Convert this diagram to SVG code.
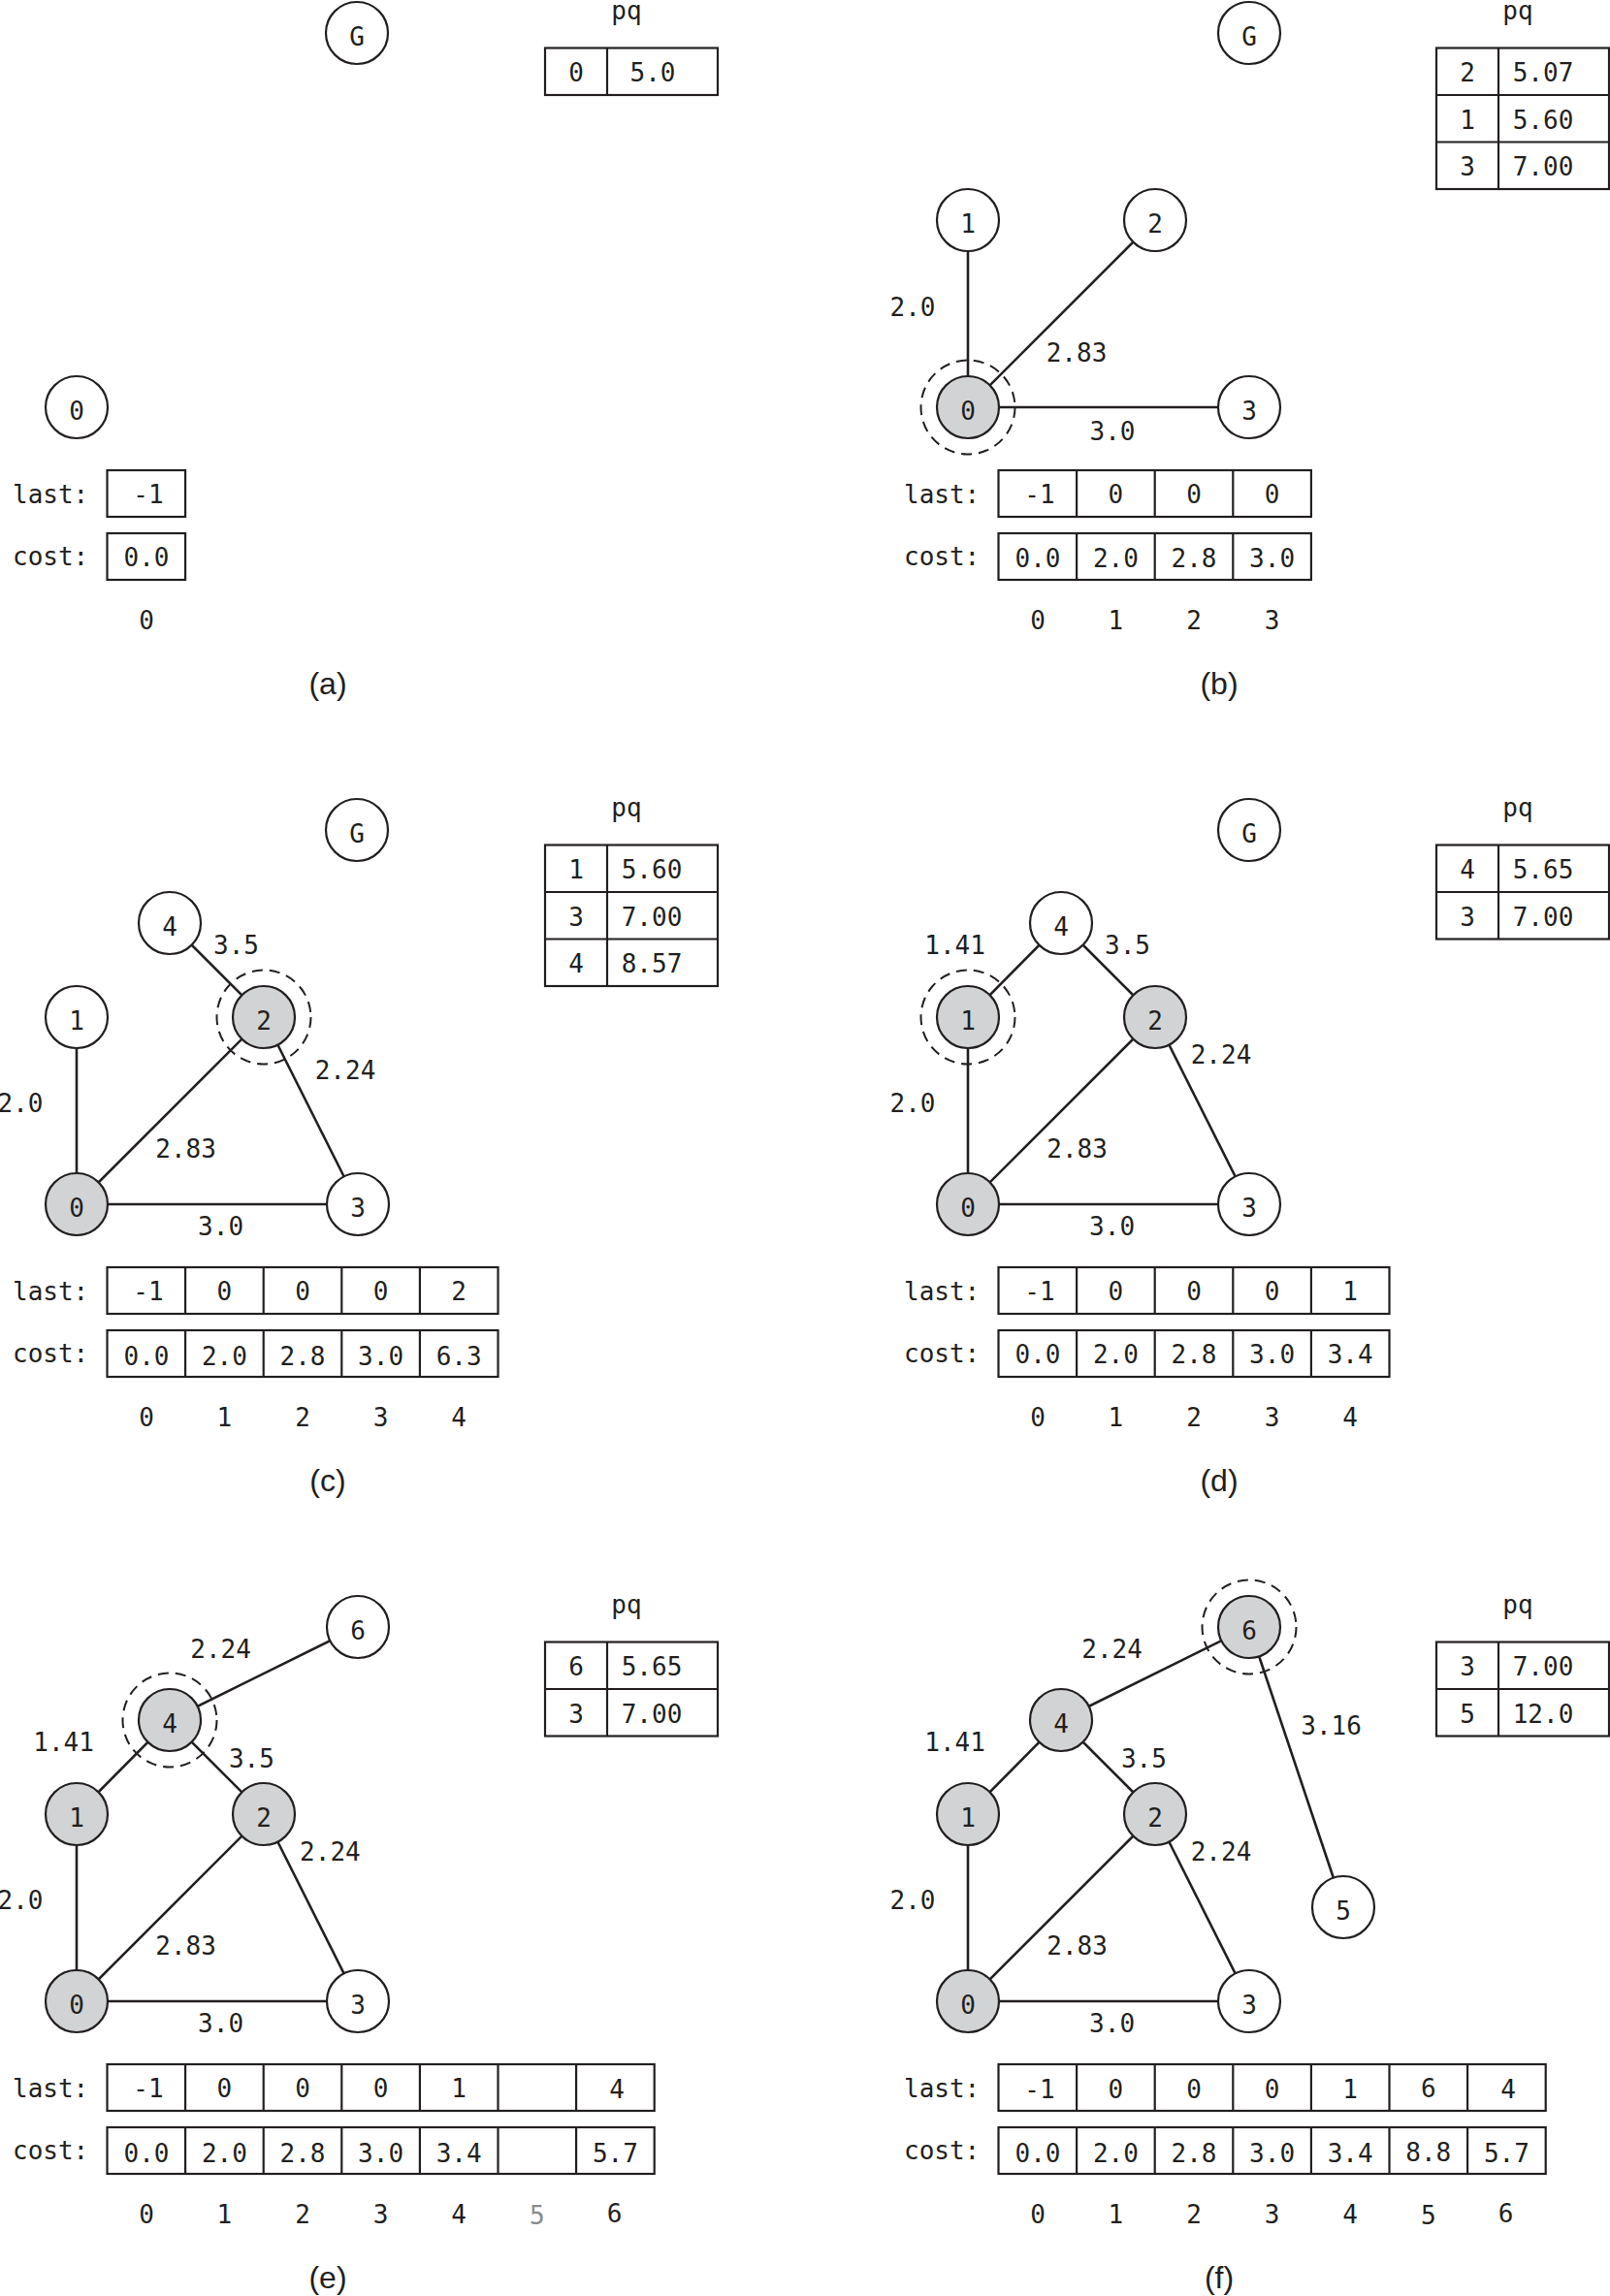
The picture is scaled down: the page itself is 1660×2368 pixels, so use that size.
<svg xmlns="http://www.w3.org/2000/svg" width="1660" height="2368" viewBox="0 0 1660 2368">
<style>
.bg{fill:#fff}
.e{stroke:#231f20;stroke-width:2.6;fill:none}
.n{fill:#fff;stroke:#231f20;stroke-width:2.2}
.v{fill:#d1d3d4;stroke:#231f20;stroke-width:2.2}
.ring{fill:none;stroke:#231f20;stroke-width:2;stroke-dasharray:11 7}
.box{fill:#fff;stroke:#231f20;stroke-width:2.2}
.ln{stroke:#231f20;stroke-width:2.2}
.t{font-family:"DejaVu Sans Mono","Liberation Mono",monospace;font-size:26px;fill:#231f20;text-anchor:middle}
.l{font-family:"DejaVu Sans Mono","Liberation Mono",monospace;font-size:26px;fill:#231f20}
.cap{font-family:"Liberation Sans","DejaVu Sans",sans-serif;font-size:32px;fill:#231f20;text-anchor:middle}
.gr{fill:#8a8a8a}
</style>
<rect class="bg" x="0" y="0" width="1660" height="2368"/>

<!-- ===================== (a) ===================== -->
<g id="panel-a">
  <g id="a-G"><circle class="n" cx="368" cy="34" r="32"/><text class="t" x="368" y="46.5">G</text></g>
  <g id="a-pq">
    <text class="t" x="646" y="20">pq</text>
    <rect class="box" x="562" y="49.5" width="178" height="48.5"/>
    <line class="ln" x1="626" y1="49.5" x2="626" y2="98"/>
    <text class="t" x="594" y="84">0</text><text class="t" x="673" y="84">5.0</text>
  </g>
  <g id="a-n0"><circle class="n" cx="79" cy="420" r="32"/><text class="t" x="79" y="432.5">0</text></g>
  <g id="a-last">
    <text class="l" x="13" y="519">last:</text>
    <rect class="box" x="110.5" y="485" width="80.6" height="48"/>
    <text class="t" x="153" y="519">-1</text>
  </g>
  <g id="a-cost">
    <text class="l" x="13" y="583">cost:</text>
    <rect class="box" x="110.5" y="550" width="80.6" height="48"/>
    <text class="t" x="151" y="584">0.0</text>
  </g>
  <g id="a-idx"><text class="t" x="151" y="649">0</text></g>
  <text class="cap" x="338" y="716">(a)</text>
</g>

<!-- ===================== (b) ===================== -->
<g id="panel-b" transform="translate(919,0)">
  <g id="b-edges">
    <line class="e" x1="79" y1="420" x2="79" y2="227"/>
    <line class="e" x1="79" y1="420" x2="272" y2="227"/>
    <line class="e" x1="79" y1="420" x2="369" y2="420"/>
  </g>
  <g id="b-elabels">
    <text class="t" x="22" y="325.5">2.0</text>
    <text class="t" x="191" y="372.5">2.83</text>
    <text class="t" x="228" y="453.5">3.0</text>
  </g>
  <g id="b-G"><circle class="n" cx="369" cy="34" r="32"/><text class="t" x="369" y="46.5">G</text></g>
  <g id="b-pq">
    <text class="t" x="646" y="20">pq</text>
    <rect class="box" x="562" y="49.5" width="178" height="145.5"/>
    <line class="ln" x1="626" y1="49.5" x2="626" y2="195"/>
    <line class="ln" x1="562" y1="98" x2="740" y2="98"/>
    <line class="ln" x1="562" y1="146.5" x2="740" y2="146.5"/>
    <text class="t" x="594" y="84">2</text><text class="t" x="672" y="84">5.07</text>
    <text class="t" x="594" y="132.5">1</text><text class="t" x="672" y="132.5">5.60</text>
    <text class="t" x="594" y="181">3</text><text class="t" x="672" y="181">7.00</text>
  </g>
  <g id="b-n1"><circle class="n" cx="79" cy="227" r="32"/><text class="t" x="79" y="239.5">1</text></g>
  <g id="b-n2"><circle class="n" cx="272" cy="227" r="32"/><text class="t" x="272" y="239.5">2</text></g>
  <g id="b-n3"><circle class="n" cx="369" cy="420" r="32"/><text class="t" x="369" y="432.5">3</text></g>
  <g id="b-n0"><circle class="ring" cx="79" cy="420" r="48.5"/><circle class="v" cx="79" cy="420" r="32"/><text class="t" x="79" y="432.5">0</text></g>
  <g id="b-last">
    <text class="l" x="13" y="519">last:</text>
    <rect class="box" x="110.5" y="485" width="322.4" height="48"/>
    <line class="ln" x1="191.1" y1="485" x2="191.1" y2="533"/>
    <line class="ln" x1="271.7" y1="485" x2="271.7" y2="533"/>
    <line class="ln" x1="352.3" y1="485" x2="352.3" y2="533"/>
    <text class="t" x="153" y="519">-1</text><text class="t" x="231.4" y="519">0</text><text class="t" x="312" y="519">0</text><text class="t" x="392.6" y="519">0</text>
  </g>
  <g id="b-cost">
    <text class="l" x="13" y="583">cost:</text>
    <rect class="box" x="110.5" y="550" width="322.4" height="48"/>
    <line class="ln" x1="191.1" y1="550" x2="191.1" y2="598"/>
    <line class="ln" x1="271.7" y1="550" x2="271.7" y2="598"/>
    <line class="ln" x1="352.3" y1="550" x2="352.3" y2="598"/>
    <text class="t" x="151" y="585">0.0</text><text class="t" x="231.4" y="585">2.0</text><text class="t" x="312" y="585">2.8</text><text class="t" x="392.6" y="585">3.0</text>
  </g>
  <g id="b-idx">
    <text class="t" x="151" y="649">0</text><text class="t" x="231.4" y="649">1</text><text class="t" x="312" y="649">2</text><text class="t" x="392.6" y="649">3</text>
  </g>
  <text class="cap" x="338" y="716">(b)</text>
</g>

<!-- ===================== (c) ===================== -->
<g id="panel-c" transform="translate(0,822)">
  <g id="c-edges">
    <line class="e" x1="79" y1="420" x2="79" y2="227"/>
    <line class="e" x1="79" y1="420" x2="272" y2="227"/>
    <line class="e" x1="79" y1="420" x2="369" y2="420"/>
    <line class="e" x1="272" y1="227" x2="369" y2="420"/>
    <line class="e" x1="272" y1="227" x2="175" y2="130"/>
  </g>
  <g id="c-elabels">
    <text class="t" x="243.5" y="161.5">3.5</text>
    <text class="t" x="21" y="324.5">2.0</text>
    <text class="t" x="356" y="290.5">2.24</text>
    <text class="t" x="191.6" y="371.5">2.83</text>
    <text class="t" x="227.6" y="451.5">3.0</text>
  </g>
  <g id="c-G"><circle class="n" cx="368" cy="34" r="32"/><text class="t" x="368" y="46.5">G</text></g>
  <g id="c-pq">
    <text class="t" x="646" y="20">pq</text>
    <rect class="box" x="562" y="49.5" width="178" height="145.5"/>
    <line class="ln" x1="626" y1="49.5" x2="626" y2="195"/>
    <line class="ln" x1="562" y1="98" x2="740" y2="98"/>
    <line class="ln" x1="562" y1="146.5" x2="740" y2="146.5"/>
    <text class="t" x="594" y="84">1</text><text class="t" x="672" y="84">5.60</text>
    <text class="t" x="594" y="132.5">3</text><text class="t" x="672" y="132.5">7.00</text>
    <text class="t" x="594" y="181">4</text><text class="t" x="672" y="181">8.57</text>
  </g>
  <g id="c-n4"><circle class="n" cx="175" cy="130" r="32"/><text class="t" x="175" y="142.5">4</text></g>
  <g id="c-n1"><circle class="n" cx="79" cy="227" r="32"/><text class="t" x="79" y="239.5">1</text></g>
  <g id="c-n3"><circle class="n" cx="369" cy="420" r="32"/><text class="t" x="369" y="432.5">3</text></g>
  <g id="c-n0"><circle class="v" cx="79" cy="420" r="32"/><text class="t" x="79" y="432.5">0</text></g>
  <g id="c-n2"><circle class="ring" cx="272" cy="227" r="48.5"/><circle class="v" cx="272" cy="227" r="32"/><text class="t" x="272" y="239.5">2</text></g>
  <g id="c-last">
    <text class="l" x="13" y="519">last:</text>
    <rect class="box" x="110.5" y="485" width="403" height="48"/>
    <line class="ln" x1="191.1" y1="485" x2="191.1" y2="533"/>
    <line class="ln" x1="271.7" y1="485" x2="271.7" y2="533"/>
    <line class="ln" x1="352.3" y1="485" x2="352.3" y2="533"/>
    <line class="ln" x1="432.9" y1="485" x2="432.9" y2="533"/>
    <text class="t" x="153" y="519">-1</text><text class="t" x="231.4" y="519">0</text><text class="t" x="312" y="519">0</text><text class="t" x="392.6" y="519">0</text><text class="t" x="473.2" y="519">2</text>
  </g>
  <g id="c-cost">
    <text class="l" x="13" y="583">cost:</text>
    <rect class="box" x="110.5" y="550" width="403" height="48"/>
    <line class="ln" x1="191.1" y1="550" x2="191.1" y2="598"/>
    <line class="ln" x1="271.7" y1="550" x2="271.7" y2="598"/>
    <line class="ln" x1="352.3" y1="550" x2="352.3" y2="598"/>
    <line class="ln" x1="432.9" y1="550" x2="432.9" y2="598"/>
    <text class="t" x="151" y="586">0.0</text><text class="t" x="231.4" y="586">2.0</text><text class="t" x="312" y="586">2.8</text><text class="t" x="392.6" y="586">3.0</text><text class="t" x="473.2" y="586">6.3</text>
  </g>
  <g id="c-idx">
    <text class="t" x="151" y="649">0</text><text class="t" x="231.4" y="649">1</text><text class="t" x="312" y="649">2</text><text class="t" x="392.6" y="649">3</text><text class="t" x="473.2" y="649">4</text>
  </g>
  <text class="cap" x="338" y="716">(c)</text>
</g>

<!-- ===================== (d) ===================== -->
<g id="panel-d" transform="translate(919,822)">
  <g id="d-edges">
    <line class="e" x1="79" y1="420" x2="79" y2="227"/>
    <line class="e" x1="79" y1="420" x2="272" y2="227"/>
    <line class="e" x1="79" y1="420" x2="369" y2="420"/>
    <line class="e" x1="272" y1="227" x2="369" y2="420"/>
    <line class="e" x1="272" y1="227" x2="175" y2="130"/>
    <line class="e" x1="79" y1="227" x2="175" y2="130"/>
  </g>
  <g id="d-elabels">
    <text class="t" x="65.6" y="161.5">1.41</text>
    <text class="t" x="243.5" y="161.5">3.5</text>
    <text class="t" x="340" y="274.5">2.24</text>
    <text class="t" x="22" y="324.5">2.0</text>
    <text class="t" x="191.6" y="371.5">2.83</text>
    <text class="t" x="227.6" y="451.5">3.0</text>
  </g>
  <g id="d-G"><circle class="n" cx="369" cy="34" r="32"/><text class="t" x="369" y="46.5">G</text></g>
  <g id="d-pq">
    <text class="t" x="646" y="20">pq</text>
    <rect class="box" x="562" y="49.5" width="178" height="97"/>
    <line class="ln" x1="626" y1="49.5" x2="626" y2="146.5"/>
    <line class="ln" x1="562" y1="98" x2="740" y2="98"/>
    <text class="t" x="594" y="84">4</text><text class="t" x="672" y="84">5.65</text>
    <text class="t" x="594" y="132.5">3</text><text class="t" x="672" y="132.5">7.00</text>
  </g>
  <g id="d-n4"><circle class="n" cx="175" cy="130" r="32"/><text class="t" x="175" y="142.5">4</text></g>
  <g id="d-n3"><circle class="n" cx="369" cy="420" r="32"/><text class="t" x="369" y="432.5">3</text></g>
  <g id="d-n0"><circle class="v" cx="79" cy="420" r="32"/><text class="t" x="79" y="432.5">0</text></g>
  <g id="d-n2"><circle class="v" cx="272" cy="227" r="32"/><text class="t" x="272" y="239.5">2</text></g>
  <g id="d-n1"><circle class="ring" cx="79" cy="227" r="48.5"/><circle class="v" cx="79" cy="227" r="32"/><text class="t" x="79" y="239.5">1</text></g>
  <g id="d-last">
    <text class="l" x="13" y="519">last:</text>
    <rect class="box" x="110.5" y="485" width="403" height="48"/>
    <line class="ln" x1="191.1" y1="485" x2="191.1" y2="533"/>
    <line class="ln" x1="271.7" y1="485" x2="271.7" y2="533"/>
    <line class="ln" x1="352.3" y1="485" x2="352.3" y2="533"/>
    <line class="ln" x1="432.9" y1="485" x2="432.9" y2="533"/>
    <text class="t" x="153" y="519">-1</text><text class="t" x="231.4" y="519">0</text><text class="t" x="312" y="519">0</text><text class="t" x="392.6" y="519">0</text><text class="t" x="473.2" y="519">1</text>
  </g>
  <g id="d-cost">
    <text class="l" x="13" y="583">cost:</text>
    <rect class="box" x="110.5" y="550" width="403" height="48"/>
    <line class="ln" x1="191.1" y1="550" x2="191.1" y2="598"/>
    <line class="ln" x1="271.7" y1="550" x2="271.7" y2="598"/>
    <line class="ln" x1="352.3" y1="550" x2="352.3" y2="598"/>
    <line class="ln" x1="432.9" y1="550" x2="432.9" y2="598"/>
    <text class="t" x="151" y="584">0.0</text><text class="t" x="231.4" y="584">2.0</text><text class="t" x="312" y="584">2.8</text><text class="t" x="392.6" y="584">3.0</text><text class="t" x="473.2" y="584">3.4</text>
  </g>
  <g id="d-idx">
    <text class="t" x="151" y="649">0</text><text class="t" x="231.4" y="649">1</text><text class="t" x="312" y="649">2</text><text class="t" x="392.6" y="649">3</text><text class="t" x="473.2" y="649">4</text>
  </g>
  <text class="cap" x="338" y="716">(d)</text>
</g>

<!-- ===================== (e) ===================== -->
<g id="panel-e" transform="translate(0,1644)">
  <g id="e-edges">
    <line class="e" x1="79" y1="420" x2="79" y2="227"/>
    <line class="e" x1="79" y1="420" x2="272" y2="227"/>
    <line class="e" x1="79" y1="420" x2="369" y2="420"/>
    <line class="e" x1="272" y1="227" x2="369" y2="420"/>
    <line class="e" x1="272" y1="227" x2="175" y2="130"/>
    <line class="e" x1="79" y1="227" x2="175" y2="130"/>
    <line class="e" x1="175" y1="130" x2="369" y2="34"/>
  </g>
  <g id="e-elabels">
    <text class="t" x="227.6" y="65.5">2.24</text>
    <text class="t" x="65.6" y="162">1.41</text>
    <text class="t" x="259.4" y="179">3.5</text>
    <text class="t" x="340.4" y="274.5">2.24</text>
    <text class="t" x="21" y="324.5">2.0</text>
    <text class="t" x="191.6" y="371.5">2.83</text>
    <text class="t" x="227.6" y="452">3.0</text>
  </g>
  <g id="e-pq">
    <text class="t" x="646" y="20">pq</text>
    <rect class="box" x="562" y="49.5" width="178" height="97"/>
    <line class="ln" x1="626" y1="49.5" x2="626" y2="146.5"/>
    <line class="ln" x1="562" y1="98" x2="740" y2="98"/>
    <text class="t" x="594" y="84">6</text><text class="t" x="672" y="84">5.65</text>
    <text class="t" x="594" y="132.5">3</text><text class="t" x="672" y="132.5">7.00</text>
  </g>
  <g id="e-n6"><circle class="n" cx="369" cy="34" r="32"/><text class="t" x="369" y="46.5">6</text></g>
  <g id="e-n3"><circle class="n" cx="369" cy="420" r="32"/><text class="t" x="369" y="432.5">3</text></g>
  <g id="e-n0"><circle class="v" cx="79" cy="420" r="32"/><text class="t" x="79" y="432.5">0</text></g>
  <g id="e-n1"><circle class="v" cx="79" cy="227" r="32"/><text class="t" x="79" y="239.5">1</text></g>
  <g id="e-n2"><circle class="v" cx="272" cy="227" r="32"/><text class="t" x="272" y="239.5">2</text></g>
  <g id="e-n4"><circle class="ring" cx="175" cy="130" r="48.5"/><circle class="v" cx="175" cy="130" r="32"/><text class="t" x="175" y="142.5">4</text></g>
  <g id="e-last">
    <text class="l" x="13" y="519">last:</text>
    <rect class="box" x="110.5" y="485" width="564.2" height="48"/>
    <line class="ln" x1="191.1" y1="485" x2="191.1" y2="533"/>
    <line class="ln" x1="271.7" y1="485" x2="271.7" y2="533"/>
    <line class="ln" x1="352.3" y1="485" x2="352.3" y2="533"/>
    <line class="ln" x1="432.9" y1="485" x2="432.9" y2="533"/>
    <line class="ln" x1="513.5" y1="485" x2="513.5" y2="533"/>
    <line class="ln" x1="594.1" y1="485" x2="594.1" y2="533"/>
    <text class="t" x="153" y="519">-1</text><text class="t" x="231.4" y="519">0</text><text class="t" x="312" y="519">0</text><text class="t" x="392.6" y="519">0</text><text class="t" x="473.2" y="519">1</text><text class="t" x="636" y="520">4</text>
  </g>
  <g id="e-cost">
    <text class="l" x="13" y="583">cost:</text>
    <rect class="box" x="110.5" y="550" width="564.2" height="48"/>
    <line class="ln" x1="191.1" y1="550" x2="191.1" y2="598"/>
    <line class="ln" x1="271.7" y1="550" x2="271.7" y2="598"/>
    <line class="ln" x1="352.3" y1="550" x2="352.3" y2="598"/>
    <line class="ln" x1="432.9" y1="550" x2="432.9" y2="598"/>
    <line class="ln" x1="513.5" y1="550" x2="513.5" y2="598"/>
    <line class="ln" x1="594.1" y1="550" x2="594.1" y2="598"/>
    <text class="t" x="151" y="586">0.0</text><text class="t" x="231.4" y="586">2.0</text><text class="t" x="312" y="586">2.8</text><text class="t" x="392.6" y="586">3.0</text><text class="t" x="473.2" y="586">3.4</text><text class="t" x="634.4" y="586">5.7</text>
  </g>
  <g id="e-idx">
    <text class="t" x="151" y="649">0</text><text class="t" x="231.4" y="649">1</text><text class="t" x="312" y="649">2</text><text class="t" x="392.6" y="649">3</text><text class="t" x="473.2" y="649">4</text><text class="t gr" x="553.8" y="650">5</text><text class="t" x="633.5" y="648">6</text>
  </g>
  <text class="cap" x="338" y="716">(e)</text>
</g>

<!-- ===================== (f) ===================== -->
<g id="panel-f" transform="translate(919,1644)">
  <g id="f-edges">
    <line class="e" x1="79" y1="420" x2="79" y2="227"/>
    <line class="e" x1="79" y1="420" x2="272" y2="227"/>
    <line class="e" x1="79" y1="420" x2="369" y2="420"/>
    <line class="e" x1="272" y1="227" x2="369" y2="420"/>
    <line class="e" x1="272" y1="227" x2="175" y2="130"/>
    <line class="e" x1="79" y1="227" x2="175" y2="130"/>
    <line class="e" x1="175" y1="130" x2="369" y2="34"/>
    <line class="e" x1="369" y1="34" x2="466" y2="323"/>
  </g>
  <g id="f-elabels">
    <text class="t" x="227.6" y="65.5">2.24</text>
    <text class="t" x="453.6" y="145">3.16</text>
    <text class="t" x="65.6" y="162">1.41</text>
    <text class="t" x="260.4" y="179">3.5</text>
    <text class="t" x="340" y="274.5">2.24</text>
    <text class="t" x="22" y="324.5">2.0</text>
    <text class="t" x="191.6" y="371.5">2.83</text>
    <text class="t" x="227.6" y="452">3.0</text>
  </g>
  <g id="f-pq">
    <text class="t" x="646" y="20">pq</text>
    <rect class="box" x="562" y="49.5" width="178" height="97"/>
    <line class="ln" x1="626" y1="49.5" x2="626" y2="146.5"/>
    <line class="ln" x1="562" y1="98" x2="740" y2="98"/>
    <text class="t" x="594" y="84">3</text><text class="t" x="672" y="84">7.00</text>
    <text class="t" x="594" y="132.5">5</text><text class="t" x="672" y="132.5">12.0</text>
  </g>
  <g id="f-n5"><circle class="n" cx="466" cy="323" r="32"/><text class="t" x="466" y="335.5">5</text></g>
  <g id="f-n3"><circle class="n" cx="369" cy="420" r="32"/><text class="t" x="369" y="432.5">3</text></g>
  <g id="f-n0"><circle class="v" cx="79" cy="420" r="32"/><text class="t" x="79" y="432.5">0</text></g>
  <g id="f-n1"><circle class="v" cx="79" cy="227" r="32"/><text class="t" x="79" y="239.5">1</text></g>
  <g id="f-n2"><circle class="v" cx="272" cy="227" r="32"/><text class="t" x="272" y="239.5">2</text></g>
  <g id="f-n4"><circle class="v" cx="175" cy="130" r="32"/><text class="t" x="175" y="142.5">4</text></g>
  <g id="f-n6"><circle class="ring" cx="369" cy="34" r="48.5"/><circle class="v" cx="369" cy="34" r="32"/><text class="t" x="369" y="46.5">6</text></g>
  <g id="f-last">
    <text class="l" x="13" y="519">last:</text>
    <rect class="box" x="110.5" y="485" width="564.2" height="48"/>
    <line class="ln" x1="191.1" y1="485" x2="191.1" y2="533"/>
    <line class="ln" x1="271.7" y1="485" x2="271.7" y2="533"/>
    <line class="ln" x1="352.3" y1="485" x2="352.3" y2="533"/>
    <line class="ln" x1="432.9" y1="485" x2="432.9" y2="533"/>
    <line class="ln" x1="513.5" y1="485" x2="513.5" y2="533"/>
    <line class="ln" x1="594.1" y1="485" x2="594.1" y2="533"/>
    <text class="t" x="153" y="520">-1</text><text class="t" x="231.4" y="520">0</text><text class="t" x="312" y="520">0</text><text class="t" x="392.6" y="520">0</text><text class="t" x="473.2" y="520">1</text><text class="t" x="553.8" y="519">6</text><text class="t" x="636" y="520">4</text>
  </g>
  <g id="f-cost">
    <text class="l" x="13" y="583">cost:</text>
    <rect class="box" x="110.5" y="550" width="564.2" height="48"/>
    <line class="ln" x1="191.1" y1="550" x2="191.1" y2="598"/>
    <line class="ln" x1="271.7" y1="550" x2="271.7" y2="598"/>
    <line class="ln" x1="352.3" y1="550" x2="352.3" y2="598"/>
    <line class="ln" x1="432.9" y1="550" x2="432.9" y2="598"/>
    <line class="ln" x1="513.5" y1="550" x2="513.5" y2="598"/>
    <line class="ln" x1="594.1" y1="550" x2="594.1" y2="598"/>
    <text class="t" x="151" y="586">0.0</text><text class="t" x="231.4" y="586">2.0</text><text class="t" x="312" y="586">2.8</text><text class="t" x="392.6" y="586">3.0</text><text class="t" x="473.2" y="586">3.4</text><text class="t" x="553.8" y="585">8.8</text><text class="t" x="634.4" y="586">5.7</text>
  </g>
  <g id="f-idx">
    <text class="t" x="151" y="649">0</text><text class="t" x="231.4" y="649">1</text><text class="t" x="312" y="649">2</text><text class="t" x="392.6" y="649">3</text><text class="t" x="473.2" y="649">4</text><text class="t" x="553.8" y="650">5</text><text class="t" x="633.5" y="648">6</text>
  </g>
  <text class="cap" x="338" y="716">(f)</text>
</g>
</svg>
